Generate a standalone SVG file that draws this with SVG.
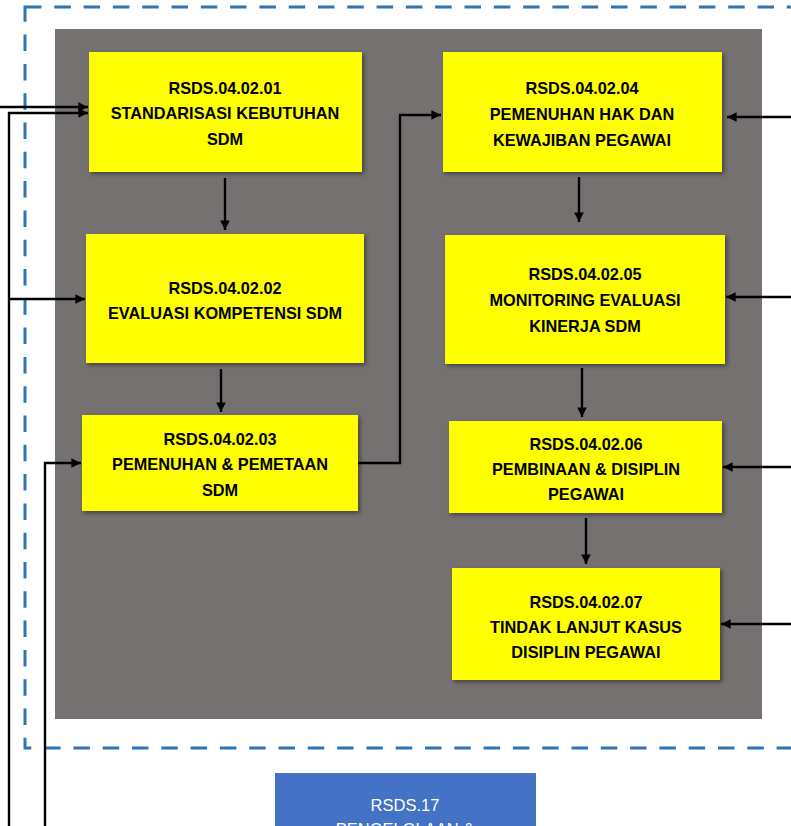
<svg xmlns="http://www.w3.org/2000/svg" width="791" height="826" viewBox="0 0 791 826">
<defs>
<marker id="ah" viewBox="0 0 10 10" refX="10" refY="5" markerWidth="4.8" markerHeight="4" orient="auto" markerUnits="strokeWidth">
<path d="M0,0 L10,5 L0,10 z" fill="#000"/>
</marker>
<filter id="sh" x="-10%" y="-10%" width="130%" height="130%">
<feDropShadow dx="2" dy="2" stdDeviation="2" flood-color="#000" flood-opacity="0.45"/>
</filter>
<style>
.bx{fill:#FFFF00;filter:url(#sh)}
.t{font-family:"Liberation Sans",Arial,sans-serif;font-weight:bold;font-size:16.3px;fill:#000;text-anchor:middle}
.c{fill:none;stroke:#000;stroke-width:2.4}
.a{marker-end:url(#ah)}
.w{font-family:"Liberation Sans",Arial,sans-serif;font-size:16.5px;fill:#fff;text-anchor:middle}
</style>
</defs>
<rect x="0" y="0" width="791" height="826" fill="#fff"/>
<rect id="frame" x="25" y="7" width="790" height="741" fill="none" stroke="#2E75B6" stroke-width="3" stroke-dasharray="16.5 12.8"/>
<rect id="panel" x="55" y="29" width="707" height="690" fill="#767171"/>

<g id="n1"><rect class="bx" x="89" y="52" width="273" height="120"/>
<text class="t" x="225" y="94">RSDS.04.02.01</text><text class="t" x="225" y="119">STANDARISASI KEBUTUHAN</text><text class="t" x="225" y="145">SDM</text></g>
<g id="n2"><rect class="bx" x="86" y="234" width="278" height="129"/>
<text class="t" x="225" y="294">RSDS.04.02.02</text><text class="t" x="225" y="319">EVALUASI KOMPETENSI SDM</text></g>
<g id="n3"><rect class="bx" x="82" y="415" width="276" height="96"/>
<text class="t" x="220" y="445">RSDS.04.02.03</text><text class="t" x="220" y="470">PEMENUHAN &amp; PEMETAAN</text><text class="t" x="220" y="496">SDM</text></g>
<g id="n4"><rect class="bx" x="443" y="52" width="279" height="120"/>
<text class="t" x="582" y="94">RSDS.04.02.04</text><text class="t" x="582" y="120">PEMENUHAN HAK DAN</text><text class="t" x="582" y="146">KEWAJIBAN PEGAWAI</text></g>
<g id="n5"><rect class="bx" x="445" y="235" width="280" height="129"/>
<text class="t" x="585" y="280">RSDS.04.02.05</text><text class="t" x="585" y="306">MONITORING EVALUASI</text><text class="t" x="585" y="332">KINERJA SDM</text></g>
<g id="n6"><rect class="bx" x="449" y="421" width="273" height="92"/>
<text class="t" x="586" y="450">RSDS.04.02.06</text><text class="t" x="586" y="475">PEMBINAAN &amp; DISIPLIN</text><text class="t" x="586" y="500">PEGAWAI</text></g>
<g id="n7"><rect class="bx" x="452" y="568" width="268" height="112"/>
<text class="t" x="586" y="608">RSDS.04.02.07</text><text class="t" x="586" y="633">TINDAK LANJUT KASUS</text><text class="t" x="586" y="658">DISIPLIN PEGAWAI</text></g>
<g id="n8"><rect x="275" y="773" width="261" height="60" fill="#4472C4"/>
<text class="w" x="405" y="811">RSDS.17</text><text class="w" x="405" y="835">PENGELOLAAN &amp;</text></g>

<g id="connectors">
<path class="c a" d="M225,178 V230"/>
<path class="c a" d="M221,369 V412"/>
<path class="c a" d="M579,177 V222"/>
<path class="c a" d="M582,368 V417"/>
<path class="c a" d="M586,518 V564"/>
<path class="c a" d="M358,463 H400 V115 H441"/>
<path class="c a" d="M0,107 H88"/>
<path class="c a" d="M9,826 V113 H88"/>
<path class="c a" d="M9,299 H85"/>
<path class="c a" d="M45,826 V463 H81"/>
<path class="c a" d="M791,117 H727"/>
<path class="c a" d="M791,297 H726"/>
<path class="c a" d="M791,467 H723"/>
<path class="c a" d="M791,624 H721"/>
</g>
</svg>
